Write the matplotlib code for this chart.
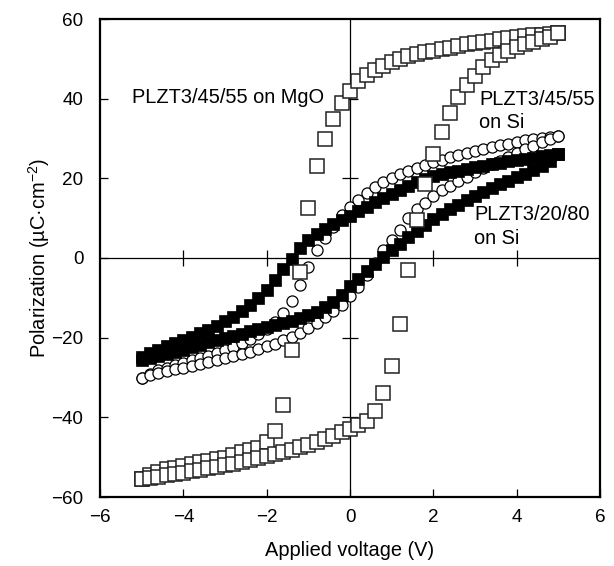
import matplotlib
matplotlib.use("Agg")
import matplotlib.pyplot as plt

plt.rcParams['font.family'] = ['Liberation Sans', 'DejaVu Sans']
plt.rcParams['mathtext.fontset'] = 'custom'
plt.rcParams['mathtext.rm'] = 'Liberation Sans'
plt.rcParams['mathtext.it'] = 'Liberation Sans:italic'

# Applied voltage (V), sweep points
V = [-5.0, -4.8, -4.6, -4.4, -4.2, -4.0, -3.8, -3.6, -3.4, -3.2,
     -3.0, -2.8, -2.6, -2.4, -2.2, -2.0, -1.8, -1.6, -1.4, -1.2,
     -1.0, -0.8, -0.6, -0.4, -0.2, 0.0, 0.2, 0.4, 0.6, 0.8,
     1.0, 1.2, 1.4, 1.6, 1.8, 2.0, 2.2, 2.4, 2.6, 2.8,
     3.0, 3.2, 3.4, 3.6, 3.8, 4.0, 4.2, 4.4, 4.6, 4.8,
     5.0]

# PLZT3/45/55 on MgO (open squares)
mgo_upper = [-55.5, -54.4, -53.6, -53.0, -52.6, -52.2, -51.8, -51.3, -51.0, -50.5,
             -50.1, -49.5, -48.8, -48.3, -47.6, -46.2, -43.4, -37.0, -23.0, -3.4,
             12.5, 23.0, 30.0, 35.0, 38.8, 42.0, 44.5, 46.0, 47.3, 48.3,
             49.2, 49.9, 50.6, 51.1, 51.6, 52.0, 52.4, 52.8, 53.2, 53.6,
             54.0, 54.3, 54.6, 54.9, 55.2, 55.5, 55.7, 55.9, 56.1, 56.3,
             56.5]
mgo_lower = [-55.5, -55.2, -54.9, -54.5, -54.2, -53.9, -53.5, -53.1, -52.8, -52.5,
             -52.0, -51.6, -51.1, -50.6, -50.1, -49.6, -49.2, -48.7, -48.1, -47.5,
             -46.9, -46.2, -45.4, -44.6, -43.8, -43.0, -42.0, -40.8, -38.4, -34.0,
             -27.0, -16.5, -3.0, 9.5, 18.7, 26.0, 31.6, 36.5, 40.3, 43.4,
             45.8, 48.0, 49.8, 50.9, 51.9, 53.0, 53.6, 54.3, 54.9, 55.6,
             56.5]

# PLZT3/45/55 on Si (open circles)
si55_upper = [-30.0, -29.0, -28.2, -27.5, -26.9, -26.3, -25.7, -25.1, -24.5, -23.8,
              -23.1, -22.3, -21.4, -20.4, -19.2, -17.8, -16.0, -13.8, -10.9, -6.8,
              -2.2, 2.0, 5.0, 7.8, 10.7, 12.8, 14.6, 16.4, 17.8, 19.0,
              20.0, 21.0, 21.8, 22.6, 23.3, 24.0, 24.7, 25.3, 25.8, 26.4,
              26.9, 27.4, 27.9, 28.3, 28.7, 29.1, 29.5, 29.8, 30.1, 30.4,
              30.7]
si55_lower = [-30.0, -29.4, -28.9, -28.4, -27.9, -27.5, -27.0, -26.6, -26.1, -25.7,
              -25.2, -24.7, -24.1, -23.5, -22.9, -22.2, -21.5, -20.7, -19.8, -18.8,
              -17.6, -16.3, -14.9, -13.4, -11.7, -9.6, -7.2, -4.3, -1.2, 2.0,
              4.5, 7.0, 10.0, 12.2, 13.9, 15.6, 17.0, 18.2, 19.3, 20.4,
              21.5, 22.5, 23.5, 24.4, 25.4, 26.4, 27.3, 28.2, 29.0, 29.8,
              30.7]

# PLZT3/20/80 on Si (filled squares)
si80_upper = [-24.8, -23.8, -23.0, -22.2, -21.4, -20.6, -19.8, -18.9, -18.0, -17.0,
              -15.9, -14.7, -13.3, -11.8, -10.0, -8.0, -5.5, -2.8, -0.3, 2.4,
              4.5, 6.0, 7.3, 8.5, 9.5, 10.5, 11.8, 12.9, 14.0, 15.0,
              16.0, 17.0, 18.0, 19.0, 19.8, 20.5, 21.0, 21.5, 21.9, 22.4,
              22.8, 23.2, 23.6, 23.9, 24.3, 24.6, 24.9, 25.2, 25.5, 25.8,
              26.0]
si80_lower = [-25.6, -25.0, -24.5, -24.0, -23.5, -23.0, -22.4, -21.8, -21.2, -20.6,
              -20.0, -19.5, -19.0, -18.4, -17.9, -17.4, -16.8, -16.2, -15.7, -15.1,
              -14.4, -13.5, -12.4, -11.0, -9.2, -7.0, -5.2, -3.3, -1.5, 0.3,
              2.0, 3.6, 5.3, 6.9, 8.4, 9.8, 11.0, 12.2, 13.4, 14.5,
              15.5, 16.5, 17.5, 18.5, 19.4, 20.3, 21.2, 22.1, 23.1, 24.3,
              26.0]

xticks = [-6, -4, -2, 0, 2, 4, 6]
yticks = [-60, -40, -20, 0, 20, 40, 60]
inner_xticks = [-4, -2, 2, 4]
inner_yticks = [-40, -20, 20, 40]

fig = plt.figure(figsize=(6.14, 5.66), dpi=100)
ax = fig.add_axes([100/614, 1 - 497/566, 500/614, 478/566])
ax.set_xlim(-6, 6)
ax.set_ylim(-60, 60)

# zero axes lines with crossing ticks
ax.axhline(0, color='k', lw=0.9, zorder=1)
ax.axvline(0, color='k', lw=0.9, zorder=1)
ax.plot(inner_xticks, [0] * len(inner_xticks), ls='none', marker='|',
        ms=12, mew=0.9, color='k', zorder=1)
ax.plot([0] * len(inner_yticks), inner_yticks, ls='none', marker='_',
        ms=12, mew=0.9, color='k', zorder=1)

# circles
for y in (si55_upper, si55_lower):
    ax.plot(V, y, ls='none', marker='o', ms=8.0, mfc='white', mec='k',
            mew=0.9, zorder=3)
# filled squares
for y in (si80_upper, si80_lower):
    ax.plot(V, y, ls='none', marker='s', ms=8.6, mfc='k', mec='k',
            mew=0.5, zorder=4)
# open squares
for y in (mgo_upper, mgo_lower):
    ax.plot(V, y, ls='none', marker='s', ms=10.0, mfc='white', mec='#222222',
            mew=1.1, zorder=5)

ax.set_xticks(xticks)
ax.set_yticks(yticks)
ax.tick_params(direction='in', length=6, width=0.9, labelsize=13.6,
               top=False, right=False)
ax.tick_params(axis='y', pad=12)
ax.tick_params(axis='x', pad=8.5)
for s in ax.spines.values():
    s.set_linewidth(1.6)

ax.set_xlabel('Applied voltage (V)', fontsize=14.4)
ax.set_ylabel('Polarization (µC·cm$^{-2}$)', fontsize=14.4)
ax.xaxis.set_label_coords(0.5, -0.092)
ax.yaxis.set_label_coords(-0.095, 0.5)

fs = 14.4
ax.text(-5.23, 40.2, 'PLZT3/45/55 on MgO', fontsize=fs, ha='left', va='center', zorder=6)
ax.text(3.1, 39.7, 'PLZT3/45/55', fontsize=fs, ha='left', va='center', zorder=6)
ax.text(3.1, 34.1, 'on Si', fontsize=fs, ha='left', va='center', zorder=6)
ax.text(2.98, 10.8, 'PLZT3/20/80', fontsize=fs, ha='left', va='center', zorder=6)
ax.text(2.98, 4.8, 'on Si', fontsize=fs, ha='left', va='center', zorder=6)

fig.savefig('out.png', dpi=100)
